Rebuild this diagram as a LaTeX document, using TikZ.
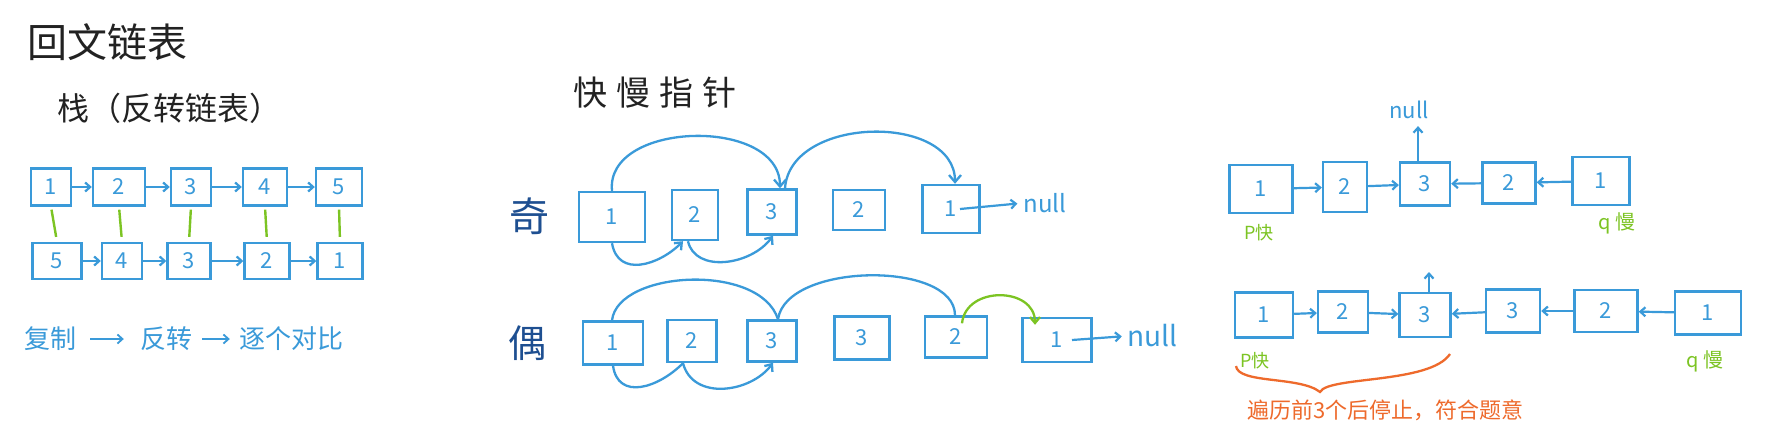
\documentclass[tikz,border=0pt]{standalone}
\usepackage{fontspec}
\setmainfont{Noto Sans CJK SC}
\usetikzlibrary{arrows.meta}
\definecolor{hb}{HTML}{3A9AD9}
\definecolor{hg}{HTML}{7CC423}
\definecolor{ho}{HTML}{EE6A2C}
\definecolor{hd}{HTML}{1E4F91}
\definecolor{ink}{HTML}{222222}
\newcommand\fs[1]{\fontsize{#1}{#1}\selectfont}
\newcommand\bx[5]{\node[box,minimum width=#4pt,minimum height=#5pt] (#1) at (#2) {#3};}
\begin{document}
\begin{tikzpicture}[x=1pt,y=-1pt,
  box/.style={draw=hb, line width=2.4pt, text=hb, font=\fs{22}, inner sep=0pt},
  conn/.style={draw=hb, line width=2.2pt, -{Straight Barb[length=5pt,width=9pt]}},
  arc/.style={draw=hb, line width=2.3pt},
  glink/.style={draw=hg, line width=2.4pt},
  lab/.style={text=hb, inner sep=0pt},
  glab/.style={text=hg, inner sep=0pt, font=\fs{18}},
  olab/.style={text=ho, inner sep=0pt, font=\fs{22}},
  head/.style={text=ink, inner sep=0pt}]
\useasboundingbox (0,0) rectangle (1768,433);
\fill[white] (0,0) rectangle (1768,433);

% titles
\node[head, anchor=west, font=\fs{40}] (title) at (27,42) {回文链表};
\node[head, anchor=west, font=\fs{32}] (stack) at (57,108) {栈（反转链表）};
\node[head, font=\fs{34}] (fast) at (655,93) {快\hspace{9pt}慢\hspace{9pt}指\hspace{9pt}针};

% left: stack method
\bx{t1}{51,187}{1}{40}{37}
\bx{t2}{119,187}{2}{52}{37}
\bx{t3}{191,187}{3}{40}{37}
\bx{t4}{265,187}{4}{44}{37}
\bx{t5}{339,187}{5}{46}{37}
\bx{u1}{57,261}{5}{49}{36}
\bx{u2}{122,261}{4}{40}{36}
\bx{u3}{189,261}{3}{43}{36}
\bx{u4}{267,261}{2}{45}{36}
\bx{u5}{340,261}{1}{45}{36}
\foreach \a/\b in {t1/t2,t2/t3,t3/t4,t4/t5,u1/u2,u2/u3,u3/u4,u4/u5}
  \draw[conn] (\a.east) -- (\b.west);
\foreach \a/\b in {t1/u1,t2/u2,t3/u3,t4/u4,t5/u5}
  \draw[glink, shorten <=3pt, shorten >=5pt] (\a.south) -- (\b.north);

\node[lab, font=\fs{26}] (c1) at (50,339) {复制};
\node[lab, font=\fs{26}] (c2) at (166,339) {反转};
\node[lab, font=\fs{26}] (c3) at (291,339) {逐个对比};
\draw[conn, line width=1.8pt, shorten <=14pt, shorten >=16pt] (c1.east) -- (c2.west);
\draw[conn, line width=1.8pt, shorten <=10pt, shorten >=9pt] (c2.east) -- (c3.west);

% middle: fast/slow pointers
\node[text=hd, inner sep=0pt, font=\fs{40}] (odd) at (529,216) {奇};
\node[text=hd, inner sep=0pt, font=\fs{38}] (even) at (527,343) {偶};

\bx{o1}{612,217}{1}{66}{50}
\bx{o2}{695,215}{2}{46}{50}
\bx{o3}{772,212}{3}{49}{45}
\bx{o4}{859,210}{2}{52}{40}
\bx{o5}{951,209}{1}{57}{48}
\node[lab, font=\fs{24}] (onull) at (1045,203) {null};
\draw[conn, shorten >=6pt] ([xshift=9pt]o5.center) -- (onull.west);

\draw[arc, -{Straight Barb[length=7pt,width=12pt]}] (o1.north) .. controls +(-7,-70) and +(0,-72) .. ([xshift=8pt]o3.north);
\draw[arc, -{Straight Barb[length=7pt,width=12pt]}] ([xshift=13pt]o3.north) .. controls +(5,-73) and +(0,-71) .. ([xshift=4pt]o5.north);
\draw[arc, -{Straight Barb[length=6pt,width=10pt]}] (o1.south) .. controls +(6,35) and +(-24,24) .. ([xshift=-12pt]o2.south);
\draw[arc, -{Straight Barb[length=6pt,width=10pt]}] ([xshift=-7pt]o2.south) .. controls +(7,32) and +(-22,30) .. ([xshift=1pt]o3.south);

\bx{e1}{613,343}{1}{60}{43}
\bx{e2}{692,341}{2}{49}{42}
\bx{e3}{772,341}{3}{49}{41}
\bx{e4}{862,338}{3}{55}{43}
\bx{e5}{956,337}{2}{62}{41}
\bx{e6}{1057,340}{1}{69}{44}
\node[lab, font=\fs{28}] (enull) at (1152,336) {null};
\draw[conn, shorten >=5pt] ([xshift=15pt]e6.center) -- (enull.west);

\draw[arc] ([xshift=-1pt]e1.north) .. controls +(6,-50) and +(-18,-57) .. ([xshift=6pt]e3.north);
\draw[arc] ([xshift=6pt]e3.north) .. controls +(8,-57) and +(0,-55) .. ([xshift=-1pt]e5.north);
\draw[draw=hg, line width=2.3pt, -{Straight Barb[length=6pt,width=10pt]}] ([xshift=6pt,yshift=-8pt]e5.north) .. controls +(4,-38) and +(0,-38) .. ([xshift=-22pt,yshift=-8pt]e6.north);
\draw[arc] (e1.south) .. controls +(5,35) and +(-25,25) .. ([xshift=-9pt]e2.south);
\draw[arc, -{Straight Barb[length=6pt,width=10pt]}] ([xshift=-9pt]e2.south) .. controls +(10,38) and +(-22,30) .. ([xshift=1pt]e3.south);

% right: reversing the second half
\bx{r1}{1261,189}{1}{63}{48}
\bx{r2}{1345,187}{2}{44}{50}
\bx{r3}{1425,184}{3}{50}{43}
\bx{r4}{1509,183}{2}{53}{41}
\bx{r5}{1601,181}{1}{57}{48}
\foreach \a/\b in {r1/r2,r2/r3,r5/r4,r4/r3}
  \draw[conn] (\a) -- (\b);
\node[lab, font=\fs{22}] (rnull) at (1409,110) {null};
\draw[conn, shorten >=7pt] ([xshift=-7pt]r3.north) -- ([xshift=-7pt]r3.north |- rnull.south);
\node[glab] (rp) at (1259,233) {P快};
\node[glab, font=\fs{20}] (rq) at (1617,223) {q 慢};

\bx{s1}{1264,315}{1}{58}{45}
\bx{s2}{1343,312}{2}{50}{41}
\bx{s3}{1425,315}{3}{51}{44}
\bx{s4}{1513,311}{3}{54}{43}
\bx{s5}{1606,311}{2}{63}{42}
\bx{s6}{1708,313}{1}{66}{43}
\foreach \a/\b in {s1/s2,s2/s3,s6/s5,s5/s4,s4/s3}
  \draw[conn] (\a) -- (\b);
\coordinate (sup) at (1429,272);
\draw[conn] ([xshift=4pt]s3.north) -- (sup);
\node[glab] (sp) at (1255,361) {P快};
\node[glab, font=\fs{20}] (sq) at (1705,361) {q 慢};

\draw[draw=ho, line width=2.3pt] (1236,366) .. controls (1238,384) and (1300,376) .. (1320,392)
  .. controls (1328,376) and (1430,384) .. (1450,354);
\node[olab, anchor=west] (note) at (1247,410) {遍历前3个后停止，符合题意};
\end{tikzpicture}
\end{document}
